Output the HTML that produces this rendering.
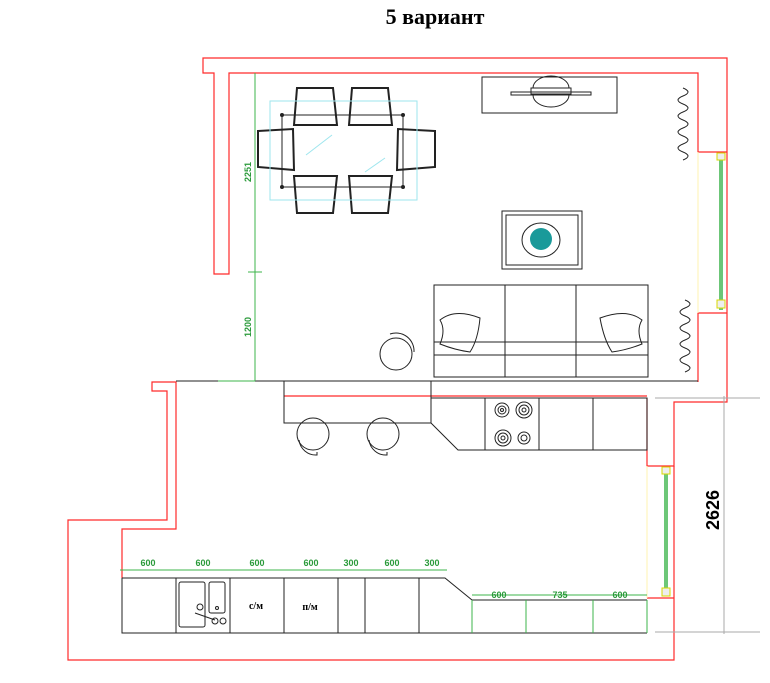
<!DOCTYPE html>
<html><head><meta charset="utf-8"><style>
html,body{margin:0;padding:0;background:#fff;width:770px;height:683px;overflow:hidden}
svg{display:block}
</style></head><body>
<svg width="770" height="683" viewBox="0 0 770 683" xmlns="http://www.w3.org/2000/svg" font-family="Liberation Sans, sans-serif">
<text x="435" y="24" text-anchor="middle" font-family="Liberation Serif, serif" font-weight="bold" font-size="22">5 вариант</text>
<g fill="none" stroke="#ff2a2a" stroke-width="1.2">
<polyline points="727,152 727,58 203,58 203,73 214,73 214,274 229,274 229,73 698,73 698,152 727,152"/>
<polyline points="727,313 698,313 698,382"/>
<polyline points="727,313 727,402 674,402 674,466 647,466 647,398"/>
<polyline points="674,598 647,598"/>
<polyline points="674,598 674,660 68,660 68,520 167,520 167,391 152,391 152,382 176,382 176,529 122,529 122,578"/>
<line x1="284" y1="396" x2="647" y2="396"/>
<line x1="727" y1="152" x2="727" y2="313"/>
<line x1="674" y1="466" x2="674" y2="598"/>
</g>
<!-- windows -->
<g stroke="#3cb44b" stroke-width="1.5"><line x1="720" y1="155" x2="720" y2="310"/><line x1="722" y1="155" x2="722" y2="310"/><line x1="665" y1="469" x2="665" y2="595"/><line x1="667" y1="469" x2="667" y2="595"/></g>
<g fill="#eee" stroke="#d8d800"><rect x="717" y="153" width="8" height="7"/><rect x="717" y="300" width="8" height="8"/><rect x="662" y="467" width="8" height="7"/><rect x="662" y="588" width="8" height="8"/></g>
<g stroke="#fff3b0"><line x1="698" y1="152" x2="698" y2="313"/><line x1="647" y1="466" x2="647" y2="598"/></g>
<!-- dimension 2626 -->
<g stroke="#aaa"><line x1="724" y1="396" x2="724" y2="634"/><line x1="655" y1="398" x2="760" y2="398"/><line x1="655" y1="632" x2="760" y2="632"/></g>
<text transform="translate(719,510) rotate(-90)" text-anchor="middle" font-weight="bold" font-size="18">2626</text>
<!-- black lines -->
<g fill="none" stroke="#222" stroke-width="1">
<line x1="176" y1="381" x2="698" y2="381"/>
<polyline points="284,381 284,423 431,423 431,381"/>
<polyline points="431,423 458,450 647,450 647,398 431,398"/>
<line x1="485" y1="398" x2="485" y2="450"/><line x1="539" y1="398" x2="539" y2="450"/><line x1="593" y1="398" x2="593" y2="450"/>
<circle cx="313" cy="434" r="16"/><path d="M299,440 A17,17 0 0 0 317,455 L317,452"/>
<circle cx="383" cy="434" r="16"/><path d="M369,440 A17,17 0 0 0 387,455 L387,452"/>
<g><circle cx="502" cy="410" r="7"/><circle cx="502" cy="410" r="4"/><circle cx="502" cy="410" r="1.5"/>
<circle cx="524" cy="410" r="8"/><circle cx="524" cy="410" r="5"/><circle cx="524" cy="410" r="2"/>
<circle cx="503" cy="438" r="8"/><circle cx="503" cy="438" r="5"/><circle cx="503" cy="438" r="2"/>
<circle cx="524" cy="438" r="6"/><circle cx="524" cy="438" r="3"/></g>
<!-- lower cabinets -->
<polyline points="122,578 445,578 472,600 647,600"/>
<polyline points="122,578 122,633 647,633"/>
<line x1="176" y1="578" x2="176" y2="633"/><line x1="230" y1="578" x2="230" y2="633"/><line x1="284" y1="578" x2="284" y2="633"/><line x1="338" y1="578" x2="338" y2="633"/><line x1="365" y1="578" x2="365" y2="633"/><line x1="419" y1="578" x2="419" y2="633"/>
<rect x="179" y="582" width="26" height="45" rx="2"/><rect x="209" y="582" width="16" height="31" rx="2"/>
<circle cx="200" cy="607" r="3"/><circle cx="217" cy="608" r="1.5"/><line x1="195" y1="613" x2="215" y2="620"/><circle cx="215" cy="621" r="3"/><circle cx="223" cy="621" r="3"/>
<!-- living -->
<rect x="482" y="77" width="135" height="36"/>
<rect x="511" y="92" width="80" height="3"/><rect x="531" y="88" width="40" height="6"/><path d="M533,88 A18,12 0 0 1 569,88 M533,95 A18,12 0 0 0 569,95"/>
<rect x="502" y="211" width="80" height="58"/><rect x="506" y="215" width="72" height="50"/>
<ellipse cx="541" cy="240" rx="19" ry="17"/>
<rect x="434" y="285" width="214" height="92"/><line x1="505" y1="285" x2="505" y2="377"/><line x1="576" y1="285" x2="576" y2="377"/>
<line x1="434" y1="342" x2="648" y2="342"/><line x1="434" y1="355" x2="648" y2="355"/>
<path d="M440,320 Q455,308 480,318 Q478,340 470,352 Q455,350 440,344 Q446,330 440,320Z"/>
<path d="M642,320 Q627,308 600,318 Q604,340 612,352 Q627,350 642,344 Q636,330 642,320Z"/>
<circle cx="396" cy="354" r="16"/><path d="M390,334 A18,18 0 0 1 414,352"/>
<path d="M683,88 q10,4 0,8 q-10,4 0,8 q10,4 0,8 q-10,4 0,8 q10,4 0,8 q-10,4 0,8 q10,4 0,8 q-10,4 0,8 q10,4 0,8"/>
<path d="M685,300 q10,4 0,8 q-10,4 0,8 q10,4 0,8 q-10,4 0,8 q10,4 0,8 q-10,4 0,8 q10,4 0,8 q-10,4 0,8 q10,4 0,8"/>
<!-- dining -->
<rect x="282" y="115" width="121" height="72"/>
<g stroke-width="2"><path d="M297,88 L333,88 L337,125 L294,125Z"/><path d="M352,88 L388,88 L392,125 L349,125Z"/>
<path d="M297,213 L333,213 L337,176 L294,176Z"/><path d="M352,213 L388,213 L392,176 L349,176Z"/>
<path d="M258,131 L293,129 L294,170 L258,167Z"/><path d="M435,131 L398,129 L397,170 L435,167Z"/></g>
</g>
<g fill="#222"><circle cx="282" cy="115" r="2"/><circle cx="403" cy="115" r="2"/><circle cx="282" cy="187" r="2"/><circle cx="403" cy="187" r="2"/></g>
<circle cx="541" cy="239" r="11" fill="#1a9a9a"/>
<rect x="270" y="101" width="147" height="99" fill="none" stroke="#9ee6ee"/>
<g stroke="#9ee6ee"><line x1="306" y1="155" x2="332" y2="135"/><line x1="365" y1="172" x2="385" y2="158"/></g>
<g font-weight="bold" font-size="10" text-anchor="middle" font-family="Liberation Serif, serif"><text x="256" y="609">с/м</text><text x="310" y="610">п/м</text></g>
<!-- green dims -->
<g stroke="#3cb44b" stroke-width="1">
<line x1="255" y1="73" x2="255" y2="381"/><line x1="248" y1="272" x2="262" y2="272"/><line x1="218" y1="381" x2="255" y2="381"/>
<line x1="120" y1="570" x2="447" y2="570"/>
<line x1="472" y1="595" x2="647" y2="595"/>
<line x1="472" y1="600" x2="472" y2="633"/><line x1="526" y1="600" x2="526" y2="633"/><line x1="593" y1="600" x2="593" y2="633"/><line x1="647" y1="600" x2="647" y2="633"/>
</g>
<g fill="#2a9a3a" font-weight="bold" font-size="9" text-anchor="middle">
<text x="148" y="566">600</text><text x="203" y="566">600</text><text x="257" y="566">600</text><text x="311" y="566">600</text><text x="351" y="566">300</text><text x="392" y="566">600</text><text x="432" y="566">300</text>
<text x="499" y="598">600</text><text x="560" y="598">735</text><text x="620" y="598">600</text>
<text transform="translate(251,172) rotate(-90)">2251</text><text transform="translate(251,327) rotate(-90)">1200</text>
</g>
</svg>
</body></html>
